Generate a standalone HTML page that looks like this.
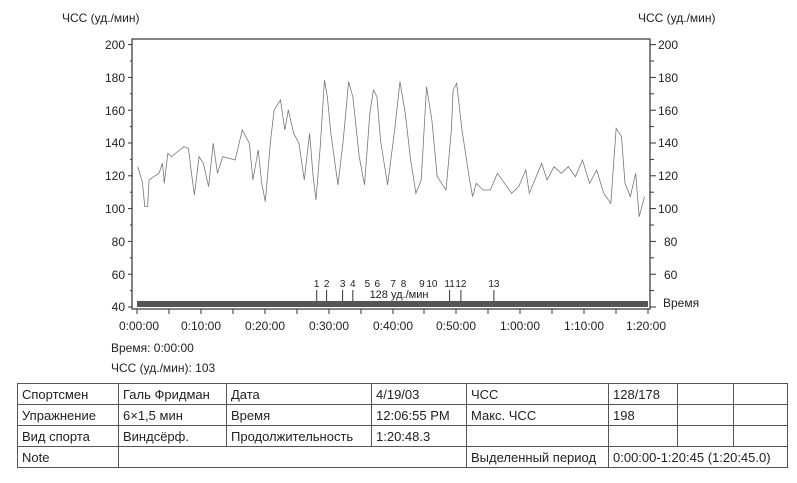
<!DOCTYPE html>
<html><head><meta charset="utf-8"><style>
body{margin:0;background:#fff;width:797px;height:483px;overflow:hidden;font-family:"Liberation Sans",sans-serif;}
svg{position:absolute;left:0;top:0}
table{position:absolute;left:17px;top:383px;border-collapse:collapse;font-size:13px;color:#222;table-layout:fixed}
td{border:1px solid #555;height:20px;padding:0 4px;white-space:nowrap;overflow:hidden}
</style></head><body>
<svg width="797" height="483" font-family="Liberation Sans, sans-serif" font-size="12" fill="#222">
<text x="62" y="22">ЧСС (уд./мин)</text>
<text x="638" y="22">ЧСС (уд./мин)</text>
<rect x="132" y="39" width="518" height="270" fill="none" stroke="#333" stroke-width="1.2"/>
<rect x="137" y="301" width="511" height="6" fill="#555"/>
<g stroke="#333" stroke-width="1">
<line x1="128" y1="44.6" x2="132" y2="44.6"/><line x1="128" y1="77.4" x2="132" y2="77.4"/>
<line x1="128" y1="110.2" x2="132" y2="110.2"/><line x1="128" y1="143" x2="132" y2="143"/>
<line x1="128" y1="175.8" x2="132" y2="175.8"/><line x1="128" y1="208.6" x2="132" y2="208.6"/>
<line x1="128" y1="241.4" x2="132" y2="241.4"/><line x1="128" y1="274.2" x2="132" y2="274.2"/>
<line x1="128" y1="307" x2="132" y2="307"/>
<line x1="130" y1="61" x2="132" y2="61"/><line x1="130" y1="93.8" x2="132" y2="93.8"/><line x1="130" y1="126.6" x2="132" y2="126.6"/><line x1="130" y1="159.4" x2="132" y2="159.4"/><line x1="130" y1="192.2" x2="132" y2="192.2"/><line x1="130" y1="225" x2="132" y2="225"/><line x1="130" y1="257.8" x2="132" y2="257.8"/><line x1="130" y1="290.6" x2="132" y2="290.6"/>
<line x1="650" y1="44.6" x2="656" y2="44.6"/><line x1="650" y1="77.4" x2="656" y2="77.4"/>
<line x1="650" y1="110.2" x2="656" y2="110.2"/><line x1="650" y1="143" x2="656" y2="143"/>
<line x1="650" y1="175.8" x2="656" y2="175.8"/><line x1="650" y1="208.6" x2="656" y2="208.6"/>
<line x1="650" y1="241.4" x2="656" y2="241.4"/><line x1="650" y1="274.2" x2="656" y2="274.2"/>
<line x1="650" y1="307" x2="656" y2="307"/>
<line x1="650" y1="61" x2="654" y2="61"/><line x1="650" y1="93.8" x2="654" y2="93.8"/><line x1="650" y1="126.6" x2="654" y2="126.6"/><line x1="650" y1="159.4" x2="654" y2="159.4"/><line x1="650" y1="192.2" x2="654" y2="192.2"/><line x1="650" y1="225" x2="654" y2="225"/><line x1="650" y1="257.8" x2="654" y2="257.8"/><line x1="650" y1="290.6" x2="654" y2="290.6"/>
<line x1="137" y1="309" x2="137" y2="314"/><line x1="169" y1="309" x2="169" y2="314"/><line x1="201" y1="309" x2="201" y2="314"/><line x1="233" y1="309" x2="233" y2="314"/><line x1="265" y1="309" x2="265" y2="314"/><line x1="297" y1="309" x2="297" y2="314"/><line x1="329" y1="309" x2="329" y2="314"/><line x1="361" y1="309" x2="361" y2="314"/><line x1="393" y1="309" x2="393" y2="314"/><line x1="424" y1="309" x2="424" y2="314"/><line x1="456" y1="309" x2="456" y2="314"/><line x1="488" y1="309" x2="488" y2="314"/><line x1="520" y1="309" x2="520" y2="314"/><line x1="552" y1="309" x2="552" y2="314"/><line x1="584" y1="309" x2="584" y2="314"/><line x1="616" y1="309" x2="616" y2="314"/><line x1="648" y1="309" x2="648" y2="314"/>
</g>
<g text-anchor="end">
<text x="125" y="49">200</text><text x="125" y="82">180</text><text x="125" y="115">160</text><text x="125" y="147">140</text><text x="125" y="180">120</text><text x="125" y="213">100</text><text x="125" y="246">80</text><text x="125" y="279">60</text><text x="125" y="311">40</text>
</g>
<g>
<text x="658" y="49">200</text><text x="658" y="82">180</text><text x="658" y="115">160</text><text x="658" y="147">140</text><text x="658" y="180">120</text><text x="658" y="213">100</text><text x="664" y="246">80</text><text x="664" y="279">60</text><text x="663" y="307">Время</text>
</g>
<g text-anchor="middle">
<text x="139" y="330">0:00:00</text><text x="201" y="330">0:10:00</text><text x="265" y="330">0:20:00</text><text x="329" y="330">0:30:00</text><text x="393" y="330">0:40:00</text><text x="456" y="330">0:50:00</text><text x="520" y="330">1:00:00</text><text x="584" y="330">1:10:00</text><text x="646" y="330">1:20:00</text>
</g>
<text x="111" y="352">Время: 0:00:00</text>
<text x="111" y="372">ЧСС (уд./мин): 103</text>
<g transform="translate(100.5,30) scale(0.3544,0.3333)">
<polyline fill="none" stroke="#777" stroke-width="0.8" vector-effect="non-scaling-stroke" points="105,410 118,455 125,530 133,530 137,450 150,440 165,430 175,400 180,460 190,370 200,380 235,350 248,355 258,440 265,495 278,380 290,400 305,470 318,340 330,430 345,380 380,390 400,300 420,340 430,450 445,360 455,460 465,515 480,330 490,240 508,210 520,300 530,240 545,310 560,340 575,450 590,310 600,440 608,510 620,350 632,150 640,200 650,310 670,465 685,330 700,155 712,200 730,380 745,465 760,250 770,180 780,200 790,330 810,465 830,300 845,155 860,250 875,390 890,490 905,450 920,170 935,270 950,440 975,480 990,300 995,180 1005,160 1020,300 1040,440 1050,500 1060,460 1080,480 1100,480 1120,430 1140,460 1160,490 1180,470 1200,420 1210,490 1245,400 1260,450 1280,410 1300,430 1320,410 1340,440 1360,390 1380,460 1400,420 1420,490 1440,520 1455,295 1470,320 1480,460 1495,500 1510,430 1520,560 1535,500"/>
</g>
<g stroke="#333" stroke-width="1">
<line x1="316.7" y1="290" x2="316.7" y2="301"/><line x1="326.6" y1="290" x2="326.6" y2="301"/><line x1="342.6" y1="290" x2="342.6" y2="301"/><line x1="352.8" y1="290" x2="352.8" y2="301"/><line x1="449.6" y1="290" x2="449.6" y2="301"/><line x1="460.9" y1="290" x2="460.9" y2="301"/><line x1="493.9" y1="290" x2="493.9" y2="301"/>
</g>
<g text-anchor="middle" font-size="10">
<text x="316.7" y="287">1</text><text x="326.6" y="287">2</text><text x="342.6" y="287">3</text><text x="352.8" y="287">4</text><text x="367.4" y="287">5</text><text x="377.3" y="287">6</text><text x="393.2" y="287">7</text><text x="403.5" y="287">8</text><text x="421.9" y="287">9</text><text x="431.9" y="287">10</text><text x="449.6" y="287">11</text><text x="460.9" y="287">12</text><text x="493.9" y="287">13</text>
<text x="399" y="298" font-size="11">128 уд./мин</text>
</g>
</svg>
<table>
<tr><td style="width:92px">Спортсмен</td><td style="width:99px">Галь Фридман</td><td style="width:136px">Дата</td><td style="width:86px">4/19/03</td><td style="width:133px">ЧСС</td><td style="width:60px">128/178</td><td style="width:47px"></td><td style="width:45px"></td></tr>
<tr><td>Упражнение</td><td>6×1,5 мин</td><td>Время</td><td>12:06:55 PM</td><td>Макс. ЧСС</td><td>198</td><td></td><td></td></tr>
<tr><td>Вид спорта</td><td>Виндсёрф.</td><td>Продолжительность</td><td>1:20:48.3</td><td></td><td></td><td></td><td></td></tr>
<tr><td>Note</td><td colspan="3"></td><td>Выделенный период</td><td colspan="3" style="overflow:visible">0:00:00-1:20:45 (1:20:45.0)</td></tr>
</table>
</body></html>
